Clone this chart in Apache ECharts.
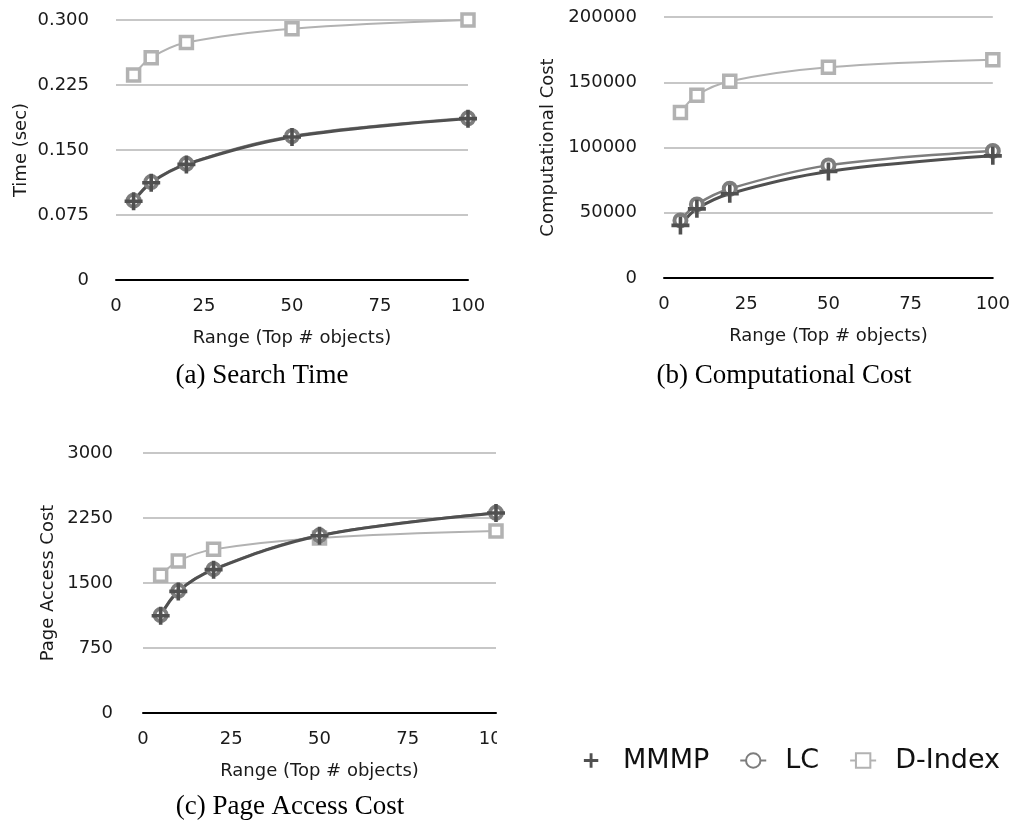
<!DOCTYPE html>
<html>
<head>
<meta charset="utf-8">
<script src="https://cdn.jsdelivr.net/npm/echarts@6/dist/echarts.min.js"></script>
<style>
html,body{margin:0;padding:0;background:#fff;}
#chart{width:1013px;height:822px;}
</style>
</head>
<body>
<div id="chart"></div>
<script>
// ---- data ----
const rangeX = [5, 10, 20, 50, 100];
const xTicks = ['0', '25', '50', '75', '100'];

const timeMMMP   = [0.0908, 0.1122, 0.1334, 0.1650, 0.1862];
const timeLC     = [0.0915, 0.1130, 0.1340, 0.1660, 0.1865];
const timeDIndex = [0.2365, 0.2565, 0.2740, 0.2900, 0.3000];
const timeTicks  = ['0', '0.075', '0.150', '0.225', '0.300'];

const compMMMP   = [40300, 53000, 64600, 81600, 93600];
const compLC     = [44100, 56400, 68400, 86300, 97400];
const compDIndex = [126800, 140100, 150800, 161500, 167300];
const compTicks  = ['0', '50000', '100000', '150000', '200000'];

const pageMMMP   = [1122, 1403, 1654, 2046, 2308];
const pageLC     = [1130, 1410, 1660, 2050, 2310];
const pageDIndex = [1589, 1753, 1888, 2020, 2100];
const pageTicks  = ['0', '750', '1500', '2250', '3000'];

const seriesNames = ['MMMP', 'LC', 'D-Index'];
const captions = ['(a) Search Time', '(b) Computational Cost', '(c) Page Access Cost'];
const yNames = ['Time (sec)', 'Computational Cost', 'Page Access Cost'];
const xName = 'Range (Top # objects)';

// ---- styles ----
const FONT = 'DejaVu Sans';
const C_MMMP = '#505050', C_LC = '#7d7d7d', C_DI = '#b2b2b2';
const PLUS = 'path://M6.4,0 H9.6 V6.4 H16 V9.6 H9.6 V16 H6.4 V9.6 H0 V6.4 H6.4 Z';

const grids = [
  {left: 116, top: 20, width: 352, height: 260},
  {left: 664, top: 17, width: 330, height: 261},
  {left: 143, top: 453, width: 353, height: 260}
];
const yCfg = [
  {max: 0.3, interval: 0.075, ticks: timeTicks, gap: 86, margin: 27},
  {max: 200000, interval: 50000, ticks: compTicks, gap: 107, margin: 27},
  {max: 3000, interval: 750, ticks: pageTicks, gap: 86, margin: 30}
];

const xAxes = grids.map((g, i) => ({
  type: 'value', gridIndex: i, min: 0, max: 100, interval: 25,
  name: xName, nameLocation: 'middle', nameGap: 49,
  nameTextStyle: {fontFamily: FONT, fontSize: 18, color: '#1a1a1a'},
  axisLine: {show: true, onZero: false, lineStyle: {color: '#000', width: 2}},
  axisTick: {show: false},
  splitLine: {show: false},
  axisLabel: {fontFamily: FONT, fontSize: 18, color: '#1a1a1a', margin: 17,
    formatter: (v) => xTicks[Math.round(v / 25)]}
}));

const yAxes = yCfg.map((c, i) => ({
  type: 'value', gridIndex: i, min: 0, max: c.max, interval: c.interval,
  name: yNames[i], nameLocation: 'middle', nameGap: c.gap,
  nameTextStyle: {fontFamily: FONT, fontSize: 18, color: '#1a1a1a'},
  axisLine: {show: false}, axisTick: {show: false},
  splitLine: {show: true, lineStyle: {color: '#b4b4b4', width: 1.5}},
  axisLabel: {fontFamily: FONT, fontSize: 18, color: '#1a1a1a', margin: c.margin,
    formatter: (v) => c.ticks[Math.round(v / c.interval)]}
}));

const sets = [
  [timeMMMP, timeLC, timeDIndex],
  [compMMMP, compLC, compDIndex],
  [pageMMMP, pageLC, pageDIndex]
];

const series = [];
sets.forEach((s, gi) => {
  const [mm, lc, di] = s;
  series.push({
    name: 'D-Index', type: 'line', xAxisIndex: gi, yAxisIndex: gi, smooth: 0.35,
    data: rangeX.map((x, k) => [x, di[k]]),
    symbol: 'rect', symbolSize: 12, showAllSymbol: true,
    lineStyle: {color: C_DI, width: 2},
    itemStyle: {color: '#fff', borderColor: C_DI, borderWidth: 3.5},
    emphasis: {disabled: true}
  });
  series.push({
    name: 'LC', type: 'line', xAxisIndex: gi, yAxisIndex: gi, smooth: 0.35,
    data: rangeX.map((x, k) => [x, lc[k]]),
    symbol: 'circle', symbolSize: 12,
    lineStyle: {color: C_LC, width: 2.5},
    itemStyle: {color: '#fff', borderColor: C_LC, borderWidth: 4},
    emphasis: {disabled: true}
  });
  series.push({
    name: 'MMMP', type: 'line', xAxisIndex: gi, yAxisIndex: gi, smooth: 0.35,
    data: rangeX.map((x, k) => [x, mm[k]]),
    symbol: PLUS, symbolSize: 18,
    lineStyle: {color: C_MMMP, width: 3},
    itemStyle: {color: C_MMMP},
    emphasis: {disabled: true}
  });
});

const titles = [
  {text: captions[0], left: 262, top: 362},
  {text: captions[1], left: 784, top: 362},
  {text: captions[2], left: 290, top: 793}
].map(t => ({
  text: t.text, left: t.left, top: t.top, textAlign: 'center', padding: 0,
  textStyle: {fontFamily: 'Liberation Serif', fontSize: 27, fontWeight: 'normal', color: '#000'}
}));

const option = {
  animation: false,
  backgroundColor: '#fff',
  title: titles,
  grid: grids,
  xAxis: xAxes,
  yAxis: yAxes,
  legend: {
    data: [
      {name: 'MMMP', lineStyle: {opacity: 0}},
      {name: 'LC'},
      {name: 'D-Index'}
    ],
    right: 8, top: 742, orient: 'horizontal',
    itemWidth: 26, itemHeight: 18, itemGap: 30,
    textStyle: {fontFamily: FONT, fontSize: 27, color: '#111', padding: [0, 0, 0, 14]},
    selectedMode: false
  },
  graphic: [
    {type: 'rect', left: 497, top: 726, shape: {width: 30, height: 26}, style: {fill: '#fff'}, z: 100}
  ],
  series: series
};

const chart = echarts.init(document.getElementById('chart'), null, {renderer: 'canvas'});
chart.setOption(option);
</script>
</body>
</html>
